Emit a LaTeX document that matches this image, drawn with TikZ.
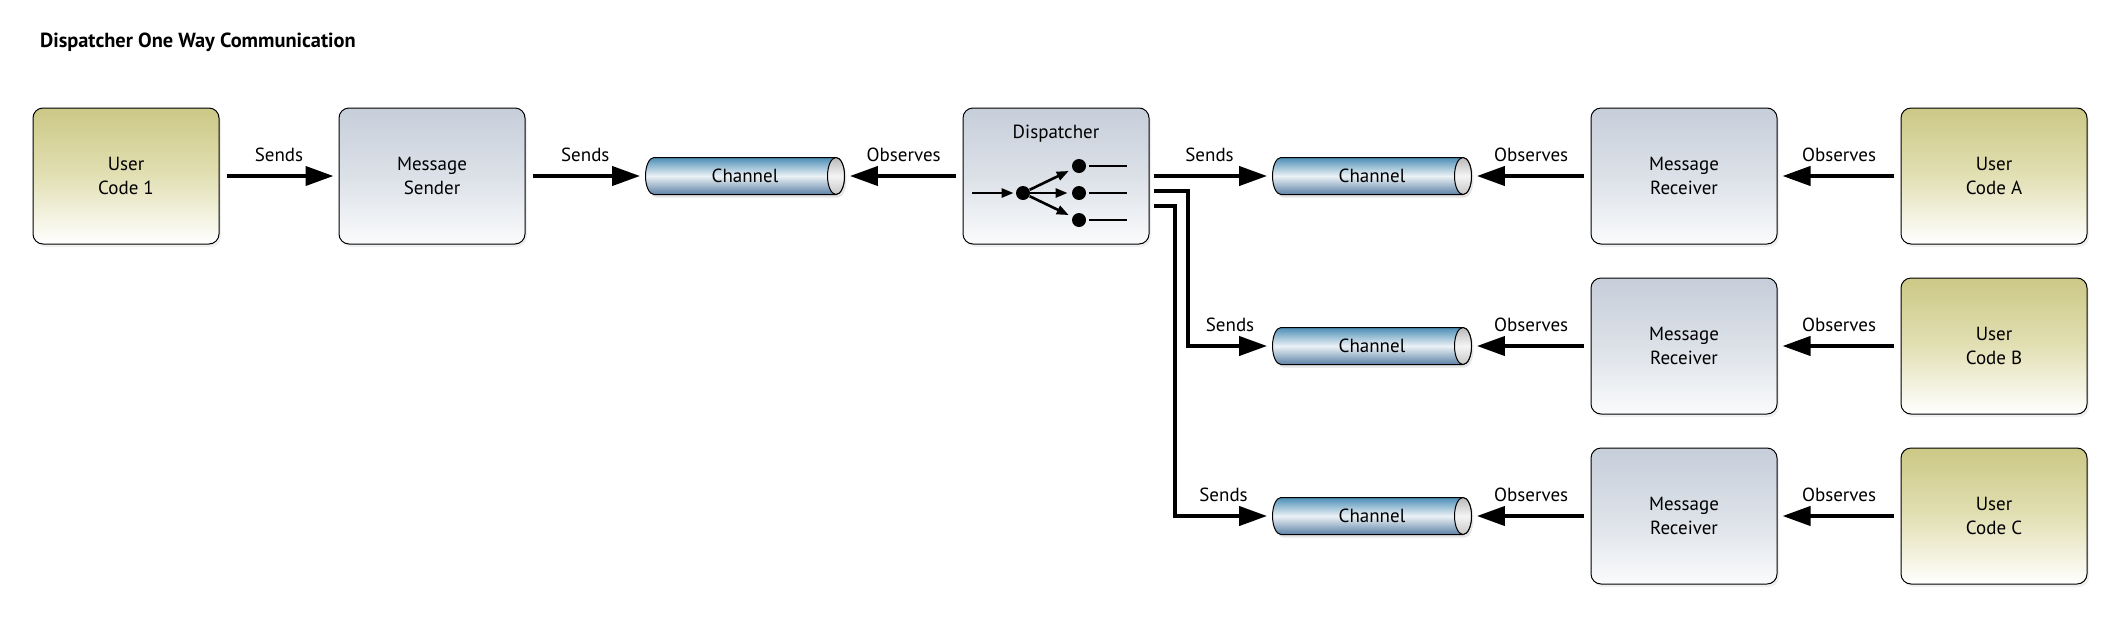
\documentclass[tikz,border=0pt]{standalone}
\usepackage{fontspec}
\setmainfont{PT Sans}
\usepackage{tikz}
\usetikzlibrary{
    arrows.meta,
    shadows,
    calc
}

\definecolor{olivedark}{RGB}{204,200,134}
\definecolor{olivemid}{RGB}{226,224,180}
\definecolor{greytop}{RGB}{198,206,218}
\definecolor{greymid}{RGB}{220,225,232}
\definecolor{greybot}{RGB}{250,251,252}
\definecolor{chantop}{RGB}{76,142,182}
\definecolor{chanmid}{RGB}{236,242,246}
\definecolor{chanbot}{RGB}{92,130,166}

\tikzset{
    box/.style={draw, line width=0.5pt, rounded corners=5pt, minimum width=93pt,
        minimum height=68pt, align=center, font=\fontsize{9.5}{12}\selectfont,
        drop shadow={opacity=0.12, shadow xshift=1pt, shadow yshift=-1.5pt}},
    userbox/.style={box, top color=olivedark, bottom color=white, middle color=olivemid},
    msgbox/.style={box, top color=greytop, bottom color=greybot, middle color=greymid},
    flow/.style={->, line width=2pt, shorten <=3.5pt, shorten >=2.5pt},
    lab/.style={above=6pt, inner sep=0pt, font=\fontsize{9.5}{12}\selectfont},
    chanlabel/.style={minimum width=99.5pt, minimum height=18.5pt, inner sep=0pt,
        font=\fontsize{9.5}{12}\selectfont},
    dot/.style={circle, fill, inner sep=0pt, minimum size=7pt},
    minarrow/.style={->, line width=1.3pt, >={Triangle[length=6pt,width=4.5pt]}},
    >={Triangle[length=14pt,width=9.5pt]}
}

% channel: name, x, y
\newcommand{\chan}[3]{%
    \fill[black, opacity=0.1]
        (#2-89,#3+15.5) -- (#2+93,#3+15.5)
        arc[start angle=90, end angle=-90, x radius=8.5, y radius=18.5]
        -- (#2-89,#3-21.5)
        arc[start angle=270, end angle=90, x radius=8.5, y radius=18.5] -- cycle;
    \shade[top color=chantop, bottom color=chanbot, middle color=chanmid]
        (#2-91,#3+18.5) -- (#2+91,#3+18.5)
        arc[start angle=90, end angle=-90, x radius=8.5, y radius=18.5]
        -- (#2-91,#3-18.5)
        arc[start angle=270, end angle=90, x radius=8.5, y radius=18.5] -- cycle;
    \draw[line width=0.5pt]
        (#2-91,#3+18.5) -- (#2+91,#3+18.5)
        arc[start angle=90, end angle=-90, x radius=8.5, y radius=18.5]
        -- (#2-91,#3-18.5)
        arc[start angle=270, end angle=90, x radius=8.5, y radius=18.5] -- cycle;
    \shade[top color=gray!55, bottom color=gray!45, middle color=gray!8]
        (#2+91,#3) ellipse[x radius=8.5, y radius=18.5];
    \draw[line width=0.5pt] (#2+91,#3) ellipse[x radius=8.5, y radius=18.5];
    \node[chanlabel] (#1) at (#2,#3) {Channel};
}

\begin{document}
\begin{tikzpicture}[x=0.5pt, y=0.5pt]
    \useasboundingbox (0,0) rectangle (2126,-622);
    \node[anchor=west, font=\bfseries\fontsize{10.2}{12}\selectfont] (title) at (33,-42) {Dispatcher One Way Communication};

    % sender side
    \node[userbox] (user1) at (126,-176) {User\\Code 1};
    \node[msgbox] (sender) at (432,-176) {Message\\Sender};
    \chan{ch1}{745}{-176}
    \node[msgbox] (disp) at (1056,-176) {};
    \node[font=\fontsize{9.5}{12}\selectfont] (dname) at (1056,-134) {Dispatcher};

    % dispatcher icon
    \coordinate (din) at (972,-193);
    \node[dot] (d0) at (1023,-193) {};
    \node[dot] (da) at (1079,-166) {};
    \node[dot] (db) at (1079,-193) {};
    \node[dot] (dc) at (1079,-220) {};
    \draw[minarrow, shorten >=1pt] (din) -- (d0);
    \draw[minarrow, shorten >=2pt] (d0) -- (da);
    \draw[minarrow, shorten >=2pt] (d0) -- (db);
    \draw[minarrow, shorten >=2pt] (d0) -- (dc);
    \draw[line width=1pt] (da.east) ++(3,0) -- ++(38,0);
    \draw[line width=1pt] (db.east) ++(3,0) -- ++(38,0);
    \draw[line width=1pt] (dc.east) ++(3,0) -- ++(38,0);

    % receiver side
    \chan{chA}{1372}{-176}
    \chan{chB}{1372}{-346}
    \chan{chC}{1372}{-516}
    \node[msgbox] (recvA) at (1684,-176) {Message\\Receiver};
    \node[msgbox] (recvB) at (1684,-346) {Message\\Receiver};
    \node[msgbox] (recvC) at (1684,-516) {Message\\Receiver};
    \node[userbox] (userA) at (1994,-176) {User\\Code A};
    \node[userbox] (userB) at (1994,-346) {User\\Code B};
    \node[userbox] (userC) at (1994,-516) {User\\Code C};

    % connectors
    \draw[flow] (user1) -- node[lab] (s1) {Sends} (sender);
    \draw[flow] (sender) -- node[lab] (s2) {Sends} (ch1);
    \draw[flow] (disp) -- node[lab] (o1) {Observes} (ch1);
    \coordinate (p1) at (1147,-176);
    \coordinate (p2) at (1147,-191);
    \coordinate (p3) at (1147,-206);
    \coordinate (k2) at (1188,-191);
    \coordinate (k3) at (1175,-206);
    \draw[flow] (p1) -- node[lab] (s3) {Sends} (chA);
    \draw[flow] (p2) -- (k2) |- node[lab, pos=0.75] (s4) {Sends} (chB.west);
    \draw[flow] (p3) -- (k3) |- node[lab, pos=0.75] (s5) {Sends} (chC.west);
    \draw[flow] (recvA) -- node[lab] (o2) {Observes} (chA);
    \draw[flow] (recvB) -- node[lab] (o3) {Observes} (chB);
    \draw[flow] (recvC) -- node[lab] (o4) {Observes} (chC);
    \draw[flow] (userA) -- node[lab] (o5) {Observes} (recvA);
    \draw[flow] (userB) -- node[lab] (o6) {Observes} (recvB);
    \draw[flow] (userC) -- node[lab] (o7) {Observes} (recvC);
\end{tikzpicture}
\end{document}
